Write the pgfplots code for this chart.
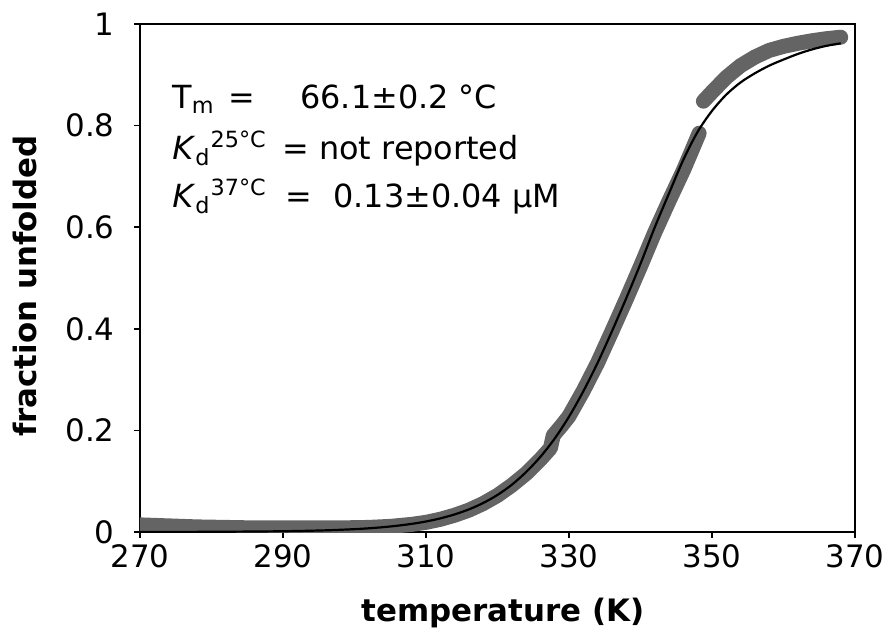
\documentclass[border=0pt]{standalone}
\usepackage{fontspec}
\setmainfont{DejaVu Sans}
\usepackage{pgfplots}
\pgfplotsset{compat=1.18}
\definecolor{bandgray}{RGB}{100,100,100}

\begin{document}
\begin{tikzpicture}
\begin{axis}[
  scale only axis, width=357.5bp, height=254bp,
  xmin=270, xmax=370, ymin=0, ymax=1,
  xtick={270,290,310,330,350,370},
  ytick={0,0.2,0.4,0.6,0.8,1},
  yticklabels={0,0.2,0.4,0.6,0.8,1},
  tick align=outside, tick pos=left, major tick length=3bp,
  axis line style={line width=0.7bp},
  every tick/.style={black, line width=0.7bp},
  /pgf/number format/assume math mode=true,
  tick label style={font=\fontsize{15.5}{18}\selectfont, inner sep=0pt},
  xticklabel style={anchor=north, yshift=-3bp},
  yticklabel style={anchor=east, xshift=-9.5bp},
  label style={font=\bfseries\fontsize{15.5}{18}\selectfont, inner sep=0pt},
  xlabel={temperature (K)},
  ylabel={fraction unfolded},
  xlabel style={at={(axis description cs:0.508,-0.1752)}, anchor=base},
  ylabel style={at={(axis description cs:-0.1441,0.484)}, anchor=base},
  clip=true,
]
% measured data (thick grey band), two segments
\addplot[bandgray, line width=7.5bp, line cap=round, line join=round] coordinates {
(270,0.014) (274,0.012) (278,0.010) (282,0.009) (286,0.008) (290,0.008)
(294,0.008) (298,0.008) (302,0.009) (305,0.011) (308,0.015) (310,0.019)
(312,0.025) (314,0.033) (316,0.043) (318,0.056) (320,0.072) (322,0.092)
(324,0.115) (326,0.143) (327.4,0.165) (327.8,0.19) (329,0.21) (330,0.228)
(332,0.278) (334,0.333) (336,0.395) (338,0.458) (340,0.523) (342,0.59)
(344,0.652) (346,0.712) (347,0.745) (348.2,0.785)
};
\addplot[bandgray, line width=7.5bp, line cap=round, line join=round] coordinates {
(348.8,0.848) (350,0.866) (352,0.895) (354,0.918) (356,0.935) (358,0.948)
(360,0.956) (362,0.962) (364,0.967) (366,0.971) (368,0.974)
};
% fit
\addplot[black, line width=1.1bp, smooth] coordinates {
(270,0.0001) (280,0.0004) (290,0.0015) (296,0.0033) (300,0.0056)
(302,0.0073) (304,0.0095) (306,0.0124) (308,0.016) (310,0.0207)
(312,0.0268) (314,0.0346) (316,0.0445) (318,0.0571) (320,0.073)
(322,0.093) (324,0.118) (326,0.148) (328,0.184) (330,0.227)
(332,0.277) (334,0.333) (336,0.395) (338,0.46) (340,0.528)
(342,0.600) (344,0.667) (346,0.733) (348,0.788) (350,0.829)
(352,0.861) (354,0.885) (356,0.903) (358,0.918) (360,0.930)
(362,0.941) (364,0.950) (366,0.957) (368,0.962)
};
\coordinate (O) at (rel axis cs:0,0);
% annotation
\begin{scope}[every node/.style={inner sep=0pt, anchor=base west, font=\fontsize{16}{20}\selectfont}]
\node at (axis cs:274.48,0.8346) {T\textsubscript{m}};
\node at (axis cs:282.31,0.8346) {=};
\node at (axis cs:292.38,0.8346) {66.1±0.2 °C};
\node at (axis cs:274.48,0.7323) {\textit{K}\textsubscript{d}\textsuperscript{25°C}};
\node at (axis cs:289.86,0.7323) {= not reported};
\node at (axis cs:274.48,0.6378) {\textit{K}\textsubscript{d}\textsuperscript{37°C}};
\node at (axis cs:290.28,0.6378) {=};
\node at (axis cs:296.99,0.6378) {0.13±0.04 μM};
\end{scope}
\end{axis}
\pgfresetboundingbox
\path[use as bounding box] (O) ++(-70bp,-55.5bp) rectangle ++(444bp,321.5bp);
\end{tikzpicture}
\end{document}
